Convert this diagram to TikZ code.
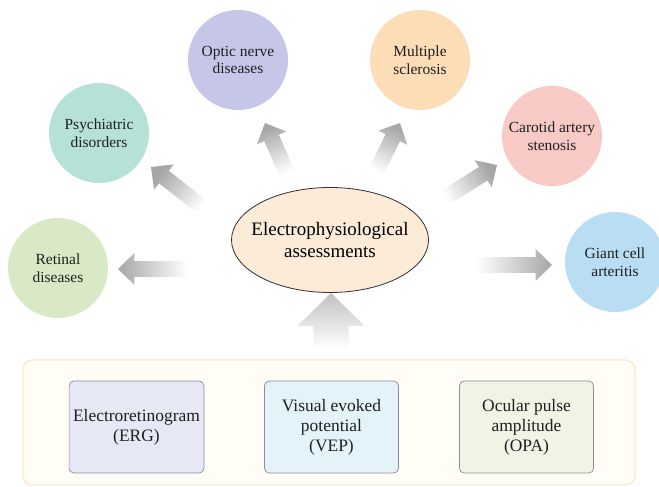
\documentclass[tikz,border=0pt]{standalone}
\usepackage{fontspec}
\setmainfont{Liberation Serif}
\usetikzlibrary{shapes.geometric,calc}
\definecolor{optcol}{HTML}{C6C7E8}
\definecolor{psycol}{HTML}{B5E1D7}
\definecolor{mulcol}{HTML}{FCDDB6}
\definecolor{carcol}{HTML}{F7CAC6}
\definecolor{retcol}{HTML}{D9E9C6}
\definecolor{giacol}{HTML}{B9DEF3}
\definecolor{ellcol}{HTML}{FCEBD7}
\definecolor{frmfill}{HTML}{FFFDF6}
\definecolor{frmline}{HTML}{FCE8CC}
\definecolor{ergcol}{HTML}{E7E8F6}
\definecolor{vepcol}{HTML}{E4F2F9}
\definecolor{opacol}{HTML}{EFF4E4}
\definecolor{boxline}{HTML}{8A8D96}
\pgfdeclarehorizontalshading{sidefade}{100bp}{color(0bp)=(white); color(30bp)=(white); color(75bp)=(black!35); color(100bp)=(black!35)}
\pgfdeclarehorizontalshading{upfade}{100bp}{color(0bp)=(white); color(30bp)=(white); color(75bp)=(black!24); color(100bp)=(black!24)}

\begin{document}
\begin{tikzpicture}[x=0.03cm,y=0.03cm,node distance=5.85cm,
  disease/.style={circle,minimum size=3cm,inner sep=0pt,align=center,text=black!88,font=\fontsize{13.2}{15}\selectfont},
  method/.style={rectangle,rounded corners=4pt,draw=boxline,line width=0.6pt,minimum width=4.02cm,minimum height=2.76cm,align=center,text=black!88,font=\fontsize{14.9}{17}\selectfont}]
\useasboundingbox (0,0) rectangle (659,487);

% fading arrows, tail (t) and tip (h)
\coordinate (ret-t) at (195,218); \coordinate (ret-h) at (118,218);
\coordinate (psy-t) at (210,274); \coordinate (psy-h) at (151,320);
\coordinate (opt-t) at (290,307); \coordinate (opt-h) at (265,364);
\coordinate (mul-t) at (373,309); \coordinate (mul-h) at (400,364);
\coordinate (car-t) at (437,284); \coordinate (car-h) at (497,322);
\coordinate (gia-t) at (468,222); \coordinate (gia-h) at (552,222);
\coordinate (up-t) at (331,132);  \coordinate (up-h) at (331,194);
\foreach \s/\a/\w/\hw/\hl/\c in {ret/180/6.8/13.7/14/sidefade,psy/142/6.8/13.7/14/sidefade,opt/114/6.8/13.7/14/sidefade,mul/64/6.8/13.7/14/sidefade,car/32/6.8/13.7/14/sidefade,gia/0/6.8/13.7/14/sidefade,up/90/15/28.5/28/upfade}{
  \coordinate (\s-b) at ($(\s-h)!\hl pt!(\s-t)$);
  \path[shading=\c,shading angle=\a]
    ($(\s-t)!\w pt!90:(\s-h)$) -- ($(\s-b)!\w pt!90:(\s-h)$) -- ($(\s-b)!\hw pt!90:(\s-h)$) -- (\s-h)
    -- ($(\s-b)!\hw pt!-90:(\s-h)$) -- ($(\s-b)!\w pt!-90:(\s-h)$) -- ($(\s-t)!\w pt!-90:(\s-h)$) -- cycle;
}

% disease circles
\node[disease,fill=optcol] (opt) at (238,427) {Optic nerve\\diseases};
\node[disease,fill=psycol] (psy) at (99,354) {Psychiatric\\disorders};
\node[disease,fill=mulcol] (mul) at (420,427) {Multiple\\sclerosis};
\node[disease,fill=carcol] (car) at (552,351) {Carotid artery\\stenosis};
\node[disease,fill=retcol] (ret) at (58,219) {Retinal\\diseases};
\node[disease,fill=giacol] (gia) at (615,225) {Giant cell\\arteritis};

% centre
\node[ellipse,draw=black!80,line width=0.7pt,fill=ellcol,minimum width=5.91cm,minimum height=3.15cm,inner xsep=-0.6cm,inner ysep=0pt,align=center,font=\fontsize{16.2}{18}\selectfont] (ell) at (330,247) {Electrophysiological\\assessments};

% methods
\node[rectangle,rounded corners=8pt,draw=frmline,line width=1.2pt,fill=frmfill,minimum width=18.36cm,minimum height=3.75cm] (frm) at (329,64.5) {};
\node[method,fill=ergcol] (erg) at (136.5,60) {Electroretinogram\\(ERG)};
\node[method,fill=vepcol] (vep) [right of=erg] {Visual evoked\\potential\\(VEP)};
\node[method,fill=opacol] (opa) [right of=vep] {Ocular pulse\\amplitude\\(OPA)};
\end{tikzpicture}
\end{document}
